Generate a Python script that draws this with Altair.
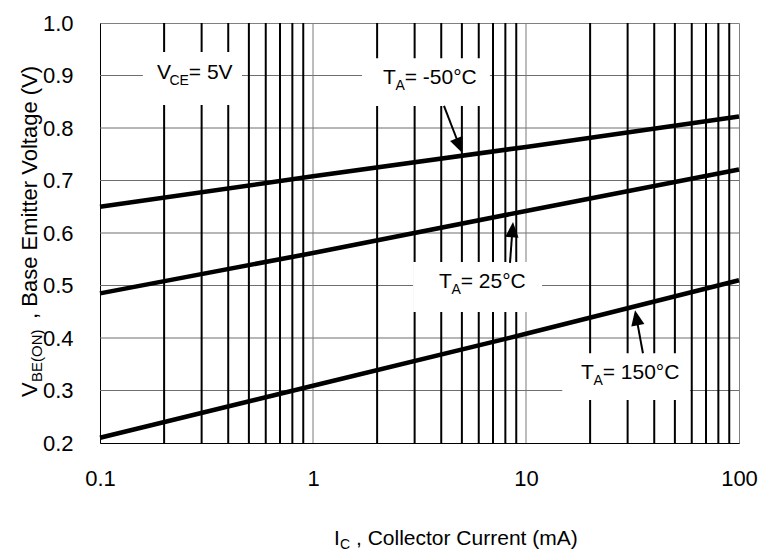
import math
import altair as alt
import pandas as pd

# ---------------- data ----------------
current_ma = [0.1, 1, 10, 100]
vbe_minus50 = [0.650, 0.708, 0.764, 0.822]
vbe_25 = [0.485, 0.562, 0.642, 0.721]
vbe_150 = [0.210, 0.309, 0.408, 0.510]
series_names = ["TA=-50C", "TA=25C", "TA=150C"]

x_tick_values = [0.1, 1, 10, 100]
y_tick_values = [0.2, 0.3, 0.4, 0.5, 0.6, 0.7, 0.8, 0.9, 1.0]
minor_x = [0.2, 0.3, 0.4, 0.5, 0.6, 0.7, 0.8, 0.9,
           2, 3, 4, 5, 6, 7, 8, 9,
           20, 30, 40, 50, 60, 70, 80, 90]
decade_x = [1, 10]
grid_y = [0.3, 0.4, 0.5, 0.6, 0.7, 0.8, 0.9]

label_vce = ["V", "CE", "= 5V"]
label_m50 = ["T", "A", "= -50°C"]
label_25 = ["T", "A", "= 25°C"]
label_150 = ["T", "A", "= 150°C"]
x_title = ["I", "C", ", Collector Current (mA)"]
y_title = ["V", "BE(ON)", ", Base Emitter Voltage (V)"]

# ---------------- layout / styles ----------------
FONT = "Liberation Sans"
W, H = 639, 420
PAD = {"left": 100, "top": 23, "right": 35, "bottom": 110}
MAIN, SUB, TICK = 21, 14, 22

xscale = alt.Scale(type="log", domain=[0.1, 100], nice=False)
yscale = alt.Scale(domain=[0.2, 1.0], nice=False, zero=False)
xaxis = alt.Axis(values=x_tick_values, format="~g", grid=False, ticks=False,
                 tickSize=0, domainColor="black", domainWidth=1,
                 labelFont=FONT, labelFontSize=TICK, labelColor="black",
                 labelPadding=25, title=None, labelFlush=False, labelOverlap=False)
yaxis = alt.Axis(values=y_tick_values, format=".1f", grid=False, ticks=False,
                 tickSize=0, domainColor="black", domainWidth=1,
                 labelFont=FONT, labelFontSize=TICK, labelColor="black",
                 labelPadding=27, title=None, labelFlush=False, labelOverlap=False)


def X(f):
    return alt.X(f"{f}:Q", scale=xscale, axis=xaxis)


def Y(f):
    return alt.Y(f"{f}:Q", scale=yscale, axis=yaxis)


layers = []

# grid
layers.append(alt.Chart(pd.DataFrame({"y": grid_y})).mark_rule(
    color="#6e6e6e", strokeWidth=1).encode(y=Y("y")))
layers.append(alt.Chart(pd.DataFrame({"x": decade_x})).mark_rule(
    color="#7a7a7a", strokeWidth=1).encode(x=X("x")))
layers.append(alt.Chart(pd.DataFrame({"x": minor_x})).mark_rule(
    color="black", strokeWidth=2).encode(x=X("x")))

# annotation geometry (data coordinates)
annotations = [
    dict(text=label_vce, at=(0.185, 0.893), box=(0.159, 0.464, 0.945, 0.844),
         sub_dx=12.5, arrow=None),
    dict(text=label_m50, at=(2.13, 0.884), box=(1.70, 6.77, 0.933, 0.842),
         sub_dx=12.5, arrow=((4.12, 0.842), (5.01, 0.753), 157.8)),
    dict(text=label_25, at=(3.90, 0.495), box=(2.95, 11.9, 0.545, 0.4495),
         sub_dx=12.5, arrow=((8.41, 0.543), (8.69, 0.621), 4.2)),
    dict(text=label_150, at=(18.1, 0.322), box=(14.8, 58.9, 0.371, 0.282),
         sub_dx=12.5, arrow=((35.4, 0.371), (32.5, 0.453), 349.5)),
]

# white boxes
boxes = pd.DataFrame([{"x1": a["box"][0], "x2": a["box"][1],
                       "y1": a["box"][2], "y2": a["box"][3]} for a in annotations])
layers.append(alt.Chart(boxes).mark_rect(color="white", opacity=1).encode(
    x=X("x1"), x2="x2", y=Y("y1"), y2="y2"))

# data lines
rows = []
for name, vals in zip(series_names, [vbe_minus50, vbe_25, vbe_150]):
    for c, v in zip(current_ma, vals):
        rows.append({"series": name, "current": c, "vbe": v})
layers.append(alt.Chart(pd.DataFrame(rows)).mark_line(
    color="black", strokeWidth=4.5, strokeCap="butt").encode(
    x=X("current"), y=Y("vbe"), detail="series:N"))

# arrows
HEAD = "M0,0L-0.95,2.2L0.95,2.2Z"
for a in annotations:
    if a["arrow"] is None:
        continue
    (tx0, ty0), (hx, hy), ang = a["arrow"]
    f = 0.25
    bx = 10 ** (math.log10(hx) + (math.log10(tx0) - math.log10(hx)) * f)
    by = hy + (ty0 - hy) * f
    shaft = pd.DataFrame({"x0": [tx0], "y0": [ty0], "x1": [bx], "y1": [by]})
    layers.append(alt.Chart(shaft).mark_rule(color="black", strokeWidth=2).encode(
        x=X("x0"), y=Y("y0"), x2="x1", y2="y1"))
    tip = pd.DataFrame({"x": [hx], "y": [hy]})
    layers.append(alt.Chart(tip).mark_point(
        shape=HEAD, size=196, filled=True, color="black", opacity=1,
        strokeWidth=0, angle=ang).encode(x=X("x"), y=Y("y")))

# annotation texts
for a in annotations:
    d = pd.DataFrame({"x": [a["at"][0]], "y": [a["at"][1]]})
    main, sub, rest = a["text"]
    sub_w = 19.4 if sub == "CE" else 9.3
    common = dict(font=FONT, color="black", align="left", baseline="alphabetic")
    layers.append(alt.Chart(d).mark_text(text=main, fontSize=MAIN, **common).encode(
        x=X("x"), y=Y("y")))
    layers.append(alt.Chart(d).mark_text(text=sub, fontSize=SUB, dx=a["sub_dx"], dy=6,
                                         **common).encode(x=X("x"), y=Y("y")))
    layers.append(alt.Chart(d).mark_text(text=rest, fontSize=MAIN,
                                         dx=a["sub_dx"] + sub_w, **common).encode(
        x=X("x"), y=Y("y")))

# axis titles (pixel positions relative to plot origin)
one = pd.DataFrame({"k": [0]})
tcommon = dict(font=FONT, color="black", align="left", baseline="alphabetic")
layers.append(alt.Chart(one).mark_text(text=x_title[0], fontSize=MAIN, **tcommon).encode(
    x=alt.value(234), y=alt.value(522)))
layers.append(alt.Chart(one).mark_text(text=x_title[1], fontSize=SUB, **tcommon).encode(
    x=alt.value(240), y=alt.value(526)))
layers.append(alt.Chart(one).mark_text(text=x_title[2], fontSize=MAIN, **tcommon).encode(
    x=alt.value(256), y=alt.value(522)))

layers.append(alt.Chart(one).mark_text(text=y_title[0], fontSize=22, angle=270,
                                       **tcommon).encode(x=alt.value(-63), y=alt.value(374)))
layers.append(alt.Chart(one).mark_text(text=y_title[1], fontSize=15, angle=270,
                                       **tcommon).encode(x=alt.value(-58), y=alt.value(359)))
layers.append(alt.Chart(one).mark_text(text=y_title[2], fontSize=22, angle=270,
                                       **tcommon).encode(x=alt.value(-63), y=alt.value(296)))

chart = alt.layer(*layers).properties(
    width=W, height=H, autosize=alt.AutoSizeParams(type="none"),
    padding=PAD, background="white"
).configure_view(stroke="#808080", strokeWidth=1)

chart.save("out.html", embed_options={"renderer": "svg", "actions": False})
